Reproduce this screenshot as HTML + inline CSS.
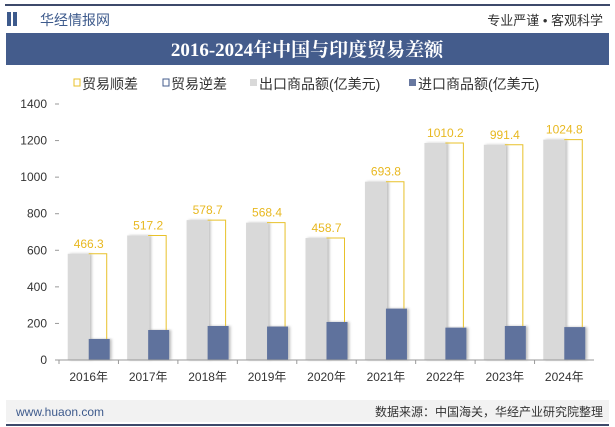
<!DOCTYPE html>
<html><head><meta charset="utf-8"><style>
body{margin:0;width:615px;height:427px;background:#fff;font-family:"Liberation Sans","Noto Sans CJK SC",sans-serif;overflow:hidden;position:relative}
</style></head><body>
<svg width="615" height="427" style="position:absolute;left:0;top:0">
<defs><filter id="sh" x="-20%" y="-5%" width="150%" height="110%"><feDropShadow dx="2" dy="0" stdDeviation="1.2" flood-color="#000" flood-opacity="0.25"/></filter></defs>
<rect x="5" y="4" width="605" height="2" fill="#3d4a6b"/>
<rect x="7" y="12" width="4" height="14" fill="#3d5a8c"/><rect x="13" y="12" width="4" height="14" fill="#3d5a8c"/>
<text x="40" y="25" font-size="14" fill="#3d5a8c">华经情报网</text>
<text x="603" y="25" font-size="13" fill="#333" text-anchor="end">专业严谨 • 客观科学</text>
<rect x="6" y="33" width="603" height="32" fill="#445c8c"/>
<text x="307" y="56" font-size="19" font-weight="bold" fill="#fff" text-anchor="middle" font-family="Liberation Serif,Noto Serif CJK SC,serif">2016-2024年中国与印度贸易差额</text>
<g font-size="14" fill="#333">
<rect x="74" y="79" width="6" height="7" fill="none" stroke="#e8c12a"/><text x="82" y="89">贸易顺差</text>
<rect x="163" y="79" width="6" height="7" fill="none" stroke="#445c8c"/><text x="171" y="89">贸易逆差</text>
<rect x="250" y="79" width="7" height="7" fill="#d9d9d9"/><text x="259" y="89">出口商品额(亿美元)</text>
<rect x="409" y="79" width="7" height="7" fill="#6878a0"/><text x="418" y="89">进口商品额(亿美元)</text>
</g>
<g id="plot"></g>
<rect x="6" y="400" width="603" height="22" fill="#f2f2f2"/>
<text x="16" y="416" font-size="12" fill="#3d5a8c">www.huaon.com</text>
<text x="603" y="416" font-size="12" fill="#333" text-anchor="end">数据来源：中国海关，华经产业研究院整理</text>
<rect x="6" y="424" width="603" height="2" fill="#3d4a6b"/>
</svg>
<script>
const years=["2016年","2017年","2018年","2019年","2020年","2021年","2022年","2023年","2024年"];
const exportsV=[581,681,765,751,667,975,1187,1177,1205];
const importsV=[115,164,186,183,208,281,177,186,180];
const balanceLabels=["466.3","517.2","578.7","568.4","458.7","693.8","1010.2","991.4","1024.8"];
const yTicks=[0,200,400,600,800,1000,1200,1400];
const NS="http://www.w3.org/2000/svg";
const g=document.getElementById('plot');
const x0=59,x1=594,y0=360,y1=104,yMax=1400;
const bw=(x1-x0)/years.length;
function Y(v){return y0-(v/yMax)*(y0-y1);}
function X(i){return x0+bw*(i+0.5);}
function mk(t,a){const e=document.createElementNS(NS,t);for(const k in a)e.setAttribute(k,a[k]);g.appendChild(e);return e;}
yTicks.forEach(v=>{
 const t=mk('text',{x:47,y:Y(v)+4,'font-size':12,fill:'#333','text-anchor':'end'});t.textContent=v;
 
 
 const l=mk('line',{x1:x0-4,x2:x0,y1:Y(v),y2:Y(v),stroke:'#999'});
 
 
});
years.forEach((yr,i)=>{
 const c=X(i);
 const e=mk('rect',{x:c-21,y:Y(exportsV[i]),width:22,height:y0-Y(exportsV[i]),fill:'#d9d9d9',filter:'url(#sh)'});
 
 
 const m=mk('rect',{x:c,y:Y(importsV[i]),width:21,height:y0-Y(importsV[i]),fill:'#5f729d',filter:'url(#sh)'});
 
 
 const b=mk('polyline',{points:`${c},${Y(exportsV[i])} ${c+18},${Y(exportsV[i])} ${c+18},${Y(importsV[i])}`,fill:'none',stroke:'#e8c12a','stroke-width':1});
 
 
 const lt=mk('text',{x:c,y:Y(exportsV[i])-6,'font-size':12,fill:'#e8b820','text-anchor':'middle'});lt.textContent=balanceLabels[i];
 
 
 const xt=mk('text',{x:c,y:381,'font-size':12,fill:'#333','text-anchor':'middle'});xt.textContent=yr;
 
 
 const tk=mk('line',{x1:x0+bw*i,x2:x0+bw*i,y1:y0,y2:y0+4,stroke:'#999'});
 
 
});
const ax=mk('line',{x1:x0,x2:x1,y1:y0,y2:y0,stroke:'#999'});


</script>
</body></html>
